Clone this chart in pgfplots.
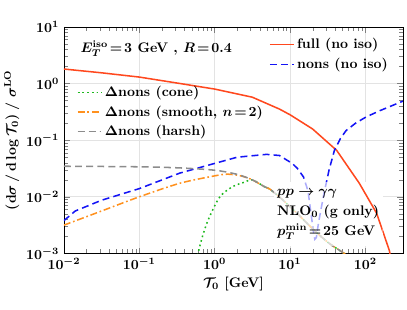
\documentclass[border=0pt]{standalone}
\usepackage{pgfplots}
\usepackage{pgfplotstable}
\pgfplotsset{compat=1.18}
\definecolor{cfull}{RGB}{255,72,30}
\definecolor{cnons}{RGB}{20,20,245}
\definecolor{ccone}{RGB}{30,185,30}
\definecolor{csmooth}{RGB}{255,145,30}
\definecolor{charsh}{RGB}{140,140,140}
\pgfplotstableread{
x y
0.01 1.807
0.03162 1.549
0.1 1.303
0.3162 1.023
1 0.800
3.162 0.575
7.244 0.355
10 0.282
19.95 0.158
41.69 0.0661
83.18 0.0174
141.3 0.00513
208.9 0.00112
218.8 0.00079
}\tfull
\pgfplotstableread{
x y
0.01 0.0038
0.01413 0.00562
0.03162 0.00871
0.1 0.01396
0.3467 0.0263
1 0.0389
1.995 0.0501
4.898 0.0562
7.244 0.0537
10.72 0.0389
12.59 0.0316
15.14 0.0224
17.38 0.0126
19.05 0.00501
20.42 0.00251
21.38 0.00178
22.39 0.00191
23.99 0.00355
28.18 0.0112
33.11 0.0302
38.90 0.0661
46.77 0.1072
55.59 0.148
74.13 0.1995
102.3 0.257
154.9 0.331
316.2 0.490
}\tnons
\pgfplotstableread{
x y
0.5754 0.00063
0.6026 0.001
0.7079 0.00224
0.8511 0.00437
1.175 0.01
1.738 0.01514
2.512 0.0182
3.162 0.01995
4.571 0.01514
5.37 0.0138
7.943 0.00891
12.59 0.00501
20.89 0.00257
33.11 0.00151
52.48 0.001
57.54 0.00087
}\tcone
\pgfplotstableread{
x y
0.01 0.00316
0.03162 0.00562
0.1 0.01
0.3467 0.01738
1 0.02344
1.479 0.02512
2.239 0.02344
3.162 0.01995
4.571 0.01514
5.37 0.0138
7.943 0.00891
12.59 0.00501
20.89 0.00257
33.11 0.00151
52.48 0.001
57.54 0.00087
}\tsmooth
\pgfplotstableread{
x y
0.01 0.0347
0.1 0.0339
0.3467 0.0324
1 0.0295
1.950 0.0251
3.162 0.01995
4.571 0.01514
5.37 0.0138
7.943 0.00891
12.59 0.00501
20.89 0.00257
33.11 0.00151
52.48 0.001
57.54 0.00087
}\tharsh
\begin{document}
\begin{tikzpicture}[font=\bfseries\boldmath]
\begin{axis}[
  name=main,
  scale only axis, width=244pt, height=163pt,
  xmode=log, ymode=log,
  xmin=0.01, xmax=316.2, ymin=1e-3, ymax=10,
  xtick={0.01,0.1,1,10,100}, ytick={0.001,0.01,0.1,1,10},
  grid=major, major grid style={gray!22, line width=0.5pt},
  tick label style={font=\bfseries\boldmath},
  xlabel={$\mathcal{T}_0$ [GeV]},
  ylabel={$(\mathrm{d}\sigma\,/\,\mathrm{d}\log\mathcal{T}_0)\;/\;\sigma^{\mathrm{LO}}$},
  xlabel style={font=\bfseries\boldmath, yshift=2pt},
  ylabel style={font=\bfseries\boldmath, yshift=-2pt},
  legend style={at={(0.025,0.765)}, anchor=north west, draw=none, fill=none, font=\bfseries\boldmath, row sep=1.2pt},
  legend cell align=left,
  every axis plot/.append style={line width=1.1pt},
]
\addplot[cfull, forget plot] table {\tfull};
\addplot[cnons, dash pattern=on 5pt off 3pt, forget plot] table {\tnons};
\addplot[ccone, dash pattern=on 1.2pt off 2.2pt, smooth] table {\tcone};
\addlegendentry{$\Delta$nons (cone)}
\addplot[csmooth, dash pattern=on 5pt off 2pt on 1.2pt off 2pt, smooth] table {\tsmooth};
\addlegendentry{$\Delta$nons (smooth, $n\!=\!2$)}
\addplot[charsh, dash pattern=on 5pt off 3pt, smooth] table {\tharsh};
\addlegendentry{$\Delta$nons (harsh)}
\fill[white] (rel axis cs:0.619,0.035) rectangle (rel axis cs:0.94,0.315);
\node[anchor=base west, font=\bfseries\boldmath] at (rel axis cs:0.035,0.889)
  {$E_T^{\mathrm{iso}}\!=\!3$ GeV , $R\!=\!0.4$};
\end{axis}
\coordinate (boxsw) at ([shift={(151.04pt,5.705pt)}]main.south west);
% faded curves behind the annotation box
\begin{axis}[
  at={(boxsw)}, anchor=south west,
  scale only axis, width=78.32pt, height=45.64pt,
  xmode=log, ymode=log,
  xmin=6.104, xmax=169.8, ymin=0.00138, ymax=0.0182,
  hide axis,
  every axis plot/.append style={line width=1.1pt},
]
\addplot[cnons!35!white, dash pattern=on 5pt off 3pt] table {\tnons};
\addplot[ccone!35!white, dash pattern=on 1.2pt off 2.2pt, smooth] table {\tcone};
\addplot[csmooth!35!white, dash pattern=on 5pt off 2pt on 1.2pt off 2pt, smooth] table {\tsmooth};
\addplot[charsh!35!white, dash pattern=on 5pt off 3pt, smooth] table {\tharsh};
\addplot[cfull] table {\tfull};
\end{axis}
\node[anchor=north west, align=left, inner sep=1.5pt, font=\bfseries\boldmath]
  at ([shift={(151.77pt,47.76pt)}]main.south west)
  {$pp\to\gamma\gamma$\\[2.2pt] NLO$_0$ (g only)\\[2.2pt] $p_T^{\mathrm{min}}\!=\!25$ GeV};
\begin{axis}[
  scale only axis, width=244pt, height=163pt,
  xmode=log, ymode=log,
  xmin=0.01, xmax=316.2, ymin=1e-3, ymax=10,
  hide axis,
  legend style={at={(0.592,0.975)}, anchor=north west, draw=none, fill=none, font=\bfseries\boldmath, row sep=1.2pt},
  legend cell align=left,
]
\addlegendimage{cfull, line width=1.1pt}
\addlegendentry{full (no iso)}
\addlegendimage{cnons, line width=1.1pt, dash pattern=on 5pt off 3pt}
\addlegendentry{nons (no iso)}
\end{axis}
\pgfresetboundingbox
\path[use as bounding box] ([shift={(-46pt,-40.3pt)}]main.south west) rectangle ([shift={(2.9pt,19.4pt)}]main.north east);
\end{tikzpicture}
\end{document}
